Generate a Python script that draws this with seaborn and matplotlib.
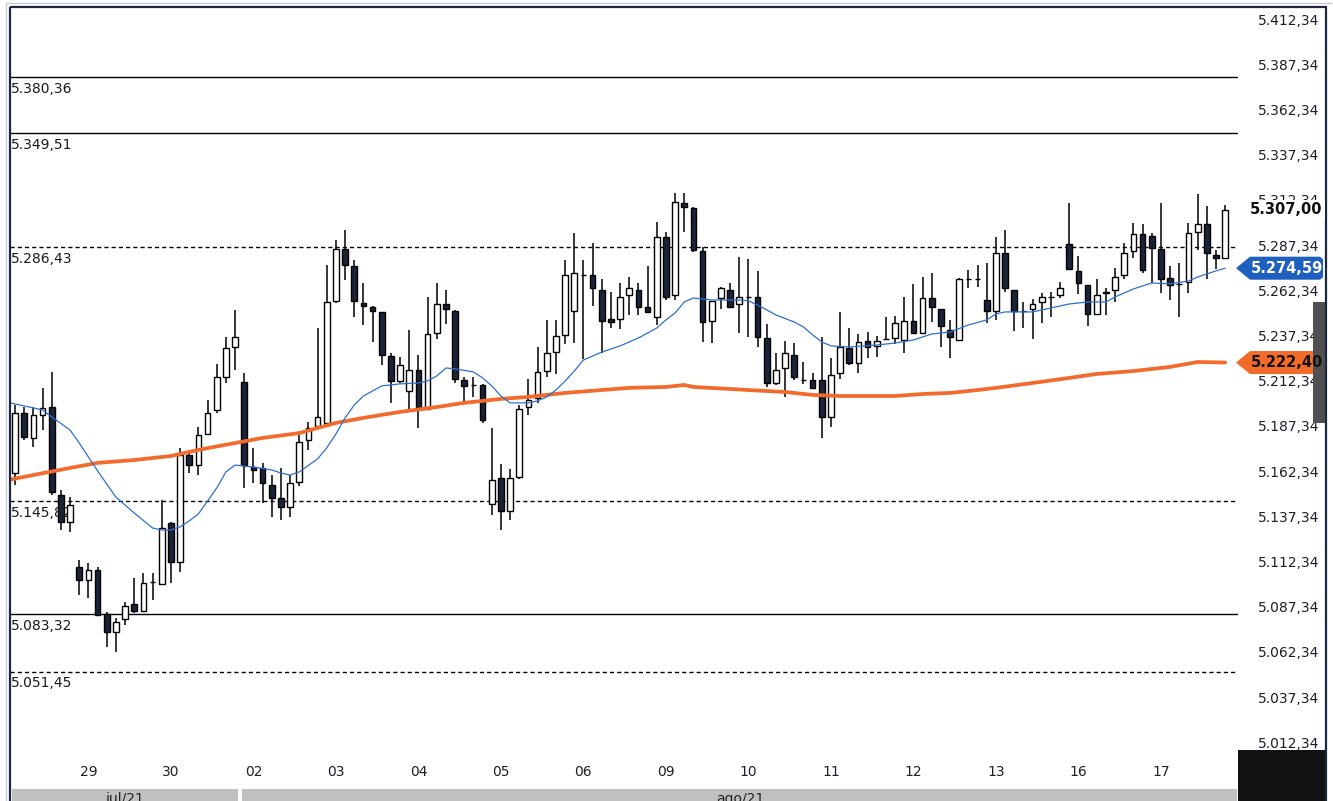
import numpy as np
import pandas as pd
import seaborn as sns
import matplotlib.pyplot as plt
from matplotlib.patches import Polygon, Rectangle

# hourly candles, 28/jul 10h ... 17/ago
opens = [5161.3, 5194.5, 5180.7, 5193.4, 5197.8, 5149.2, 5134.2, 5109.3, 5102.2, 5107.7,
         5083.4, 5073.4, 5080.6, 5088.9, 5085.0, 5101.0, 5100.0, 5133.7, 5112.1, 5171.3,
         5165.8, 5182.9, 5196.2, 5214.4, 5231.0, 5211.7, 5164.6, 5164.1, 5154.7, 5147.5,
         5142.5, 5156.4, 5179.6, 5187.3, 5189.0, 5256.5, 5285.2, 5275.8, 5255.4, 5253.2,
         5250.4, 5226.0, 5212.2, 5206.7, 5218.3, 5196.7, 5238.8, 5254.8, 5250.9, 5212.8,
         5210.0, 5210.0, 5144.2, 5158.6, 5140.3, 5159.1, 5197.8, 5202.8, 5217.7, 5228.2,
         5237.7, 5250.9, 5270.8, 5270.8, 5262.6, 5246.5, 5246.5, 5259.8, 5262.6, 5253.2,
         5247.6, 5291.9, 5259.8, 5310.7, 5307.9, 5284.1, 5245.4, 5258.1, 5262.6, 5254.8,
         5258.7, 5258.7, 5236.0, 5211.1, 5219.4, 5226.6, 5212.8, 5212.8, 5212.8, 5192.3,
         5216.6, 5230.5, 5222.2, 5234.3, 5231.6, 5235.4, 5236.0, 5234.9, 5245.4, 5238.8,
         5258.1, 5252.0, 5240.4, 5234.9, 5268.6, 5268.6, 5257.0, 5250.9, 5283.0, 5262.6,
         5250.9, 5252.0, 5255.9, 5258.7, 5259.8, 5288.0, 5273.1, 5265.3, 5249.3, 5261.4,
         5262.6, 5270.8, 5284.1, 5293.5, 5292.4, 5285.2, 5269.2, 5265.9, 5267.0, 5294.6,
         5299.1, 5281.9, 5280.2]
highs = [5198.9, 5197.8, 5197.8, 5208.4, 5217.2, 5151.9, 5148.0, 5113.2, 5111.6, 5109.3,
         5084.5, 5081.1, 5090.0, 5103.3, 5106.0, 5106.0, 5146.4, 5134.2, 5175.2, 5172.9,
         5186.8, 5201.7, 5221.6, 5236.6, 5251.5, 5216.6, 5175.2, 5166.9, 5160.2, 5164.1,
         5160.2, 5182.4, 5189.5, 5241.5, 5276.4, 5290.2, 5295.7, 5279.1, 5266.4, 5253.5,
         5250.6, 5227.7, 5225.5, 5240.4, 5226.6, 5258.7, 5266.4, 5262.6, 5251.2, 5214.4,
         5214.4, 5210.3, 5186.2, 5166.3, 5163.6, 5198.9, 5213.3, 5231.0, 5246.0, 5246.0,
         5279.1, 5294.1, 5279.1, 5288.6, 5268.6, 5261.4, 5266.4, 5269.7, 5266.4, 5275.8,
         5300.2, 5294.6, 5316.2, 5316.2, 5308.5, 5286.3, 5256.5, 5264.2, 5266.4, 5280.8,
         5279.7, 5273.1, 5243.7, 5227.7, 5234.3, 5233.2, 5222.7, 5216.6, 5236.6, 5224.9,
         5250.4, 5241.5, 5238.2, 5239.3, 5237.1, 5247.6, 5248.2, 5258.7, 5265.9, 5269.7,
         5271.9, 5252.2, 5246.0, 5269.0, 5273.6, 5276.4, 5277.5, 5291.9, 5295.7, 5262.8,
         5255.9, 5257.6, 5260.9, 5261.4, 5267.0, 5310.7, 5281.4, 5265.5, 5268.6, 5263.7,
         5274.7, 5288.6, 5299.6, 5299.1, 5294.1, 5310.7, 5275.8, 5277.5, 5299.6, 5315.6,
         5309.0, 5284.7, 5309.6]
lows = [5154.7, 5179.6, 5175.7, 5185.1, 5149.2, 5129.8, 5128.7, 5093.9, 5092.2, 5082.0,
        5065.1, 5062.3, 5077.3, 5083.9, 5084.5, 5091.1, 5099.5, 5100.5, 5106.6, 5161.3,
        5160.2, 5182.4, 5194.5, 5211.1, 5218.3, 5153.0, 5155.8, 5144.7, 5137.0, 5135.3,
        5137.0, 5154.1, 5174.1, 5186.8, 5186.8, 5255.4, 5268.1, 5247.6, 5243.2, 5233.8,
        5221.1, 5200.1, 5211.1, 5196.2, 5186.2, 5196.2, 5235.4, 5243.7, 5211.1, 5200.1,
        5203.4, 5189.0, 5138.1, 5129.8, 5135.3, 5158.0, 5193.4, 5200.1, 5214.4, 5216.1,
        5232.7, 5233.2, 5224.4, 5253.7, 5227.7, 5241.5, 5241.0, 5248.7, 5248.7, 5249.8,
        5243.2, 5257.0, 5257.0, 5294.6, 5283.6, 5233.8, 5233.2, 5252.0, 5252.6, 5238.8,
        5236.6, 5231.0, 5208.9, 5210.0, 5203.4, 5212.8, 5210.6, 5207.8, 5180.7, 5186.8,
        5213.3, 5221.1, 5216.6, 5224.9, 5225.5, 5235.0, 5232.7, 5227.7, 5238.5, 5238.2,
        5244.9, 5231.0, 5224.9, 5234.5, 5263.7, 5264.2, 5244.3, 5246.0, 5261.4, 5239.9,
        5241.5, 5235.4, 5244.3, 5247.6, 5258.1, 5274.0, 5260.3, 5242.6, 5248.7, 5248.7,
        5255.9, 5268.6, 5280.2, 5271.9, 5266.4, 5260.9, 5257.0, 5247.6, 5260.9, 5284.7,
        5268.6, 5274.2, 5279.7]
closes = [5194.5, 5181.3, 5193.4, 5197.3, 5150.8, 5134.2, 5143.6, 5102.2, 5107.7, 5082.8,
          5073.4, 5078.9, 5087.8, 5085.0, 5100.5, 5101.0, 5130.9, 5112.1, 5171.3, 5165.8,
          5182.4, 5194.5, 5214.4, 5230.5, 5236.6, 5165.8, 5163.0, 5155.8, 5147.5, 5142.5,
          5155.8, 5178.5, 5186.2, 5192.3, 5255.9, 5285.2, 5276.4, 5256.5, 5253.7, 5250.9,
          5226.6, 5212.2, 5221.1, 5218.3, 5196.7, 5238.2, 5254.8, 5252.0, 5213.3, 5209.5,
          5210.0, 5190.7, 5157.5, 5140.3, 5158.6, 5196.7, 5201.7, 5217.2, 5227.7, 5237.1,
          5270.8, 5271.9, 5270.8, 5263.7, 5245.4, 5244.9, 5258.7, 5263.7, 5253.2, 5250.4,
          5291.9, 5258.7, 5311.2, 5308.5, 5284.7, 5244.9, 5256.5, 5263.7, 5253.2, 5258.7,
          5258.7, 5236.6, 5211.1, 5218.3, 5227.7, 5214.4, 5212.8, 5208.4, 5192.3, 5215.5,
          5231.0, 5222.2, 5233.8, 5231.0, 5234.3, 5235.4, 5244.3, 5245.4, 5238.8, 5258.1,
          5253.2, 5242.6, 5236.6, 5268.6, 5268.6, 5268.6, 5250.9, 5283.0, 5263.7, 5250.9,
          5250.9, 5254.8, 5258.7, 5258.7, 5263.7, 5274.2, 5266.4, 5249.3, 5259.8, 5260.9,
          5269.7, 5283.0, 5293.5, 5273.6, 5285.8, 5268.6, 5265.3, 5265.9, 5294.1, 5299.1,
          5283.0, 5280.2, 5307.0]

# short moving average (blue)
ma_fast_idx = [-0.5, 0, 3, 4, 6, 7, 9, 11, 13, 15, 16, 17, 18, 19, 20, 21, 22, 23, 24, 26,
               28, 29, 30, 31, 33, 34, 35, 36, 37, 38, 40, 42, 44, 45, 46, 47, 48, 50, 51,
               52, 53, 54, 56, 57, 58, 59, 60, 61, 62, 64, 66, 68, 70, 71, 72, 73, 74, 76,
               79, 80, 81, 82, 83, 85, 86, 87, 88, 89, 91, 94, 96, 98, 100, 102, 104, 106,
               107, 108, 111, 113, 115, 117, 119, 120, 122, 123, 124, 126, 128, 129, 130,
               131, 132]
ma_fast = [5200.0, 5199.5, 5196.2, 5192.3, 5185.1, 5177.9, 5162.5, 5148.0, 5139.2, 5130.9,
           5129.8, 5129.8, 5131.5, 5134.8, 5138.7, 5145.8, 5153.0, 5161.9, 5165.7, 5164.6,
           5163.0, 5161.3, 5160.2, 5161.9, 5169.1, 5175.2, 5182.9, 5191.8, 5198.9, 5203.9,
           5209.5, 5210.6, 5211.1, 5212.2, 5215.0, 5219.4, 5218.9, 5217.2, 5213.9, 5209.5,
           5203.9, 5200.1, 5200.1, 5201.2, 5203.4, 5207.2, 5212.2, 5217.7, 5223.8, 5228.2,
           5231.6, 5236.0, 5241.5, 5246.0, 5249.8, 5255.9, 5258.1, 5257.0, 5257.0, 5256.5,
           5254.2, 5251.5, 5248.7, 5244.8, 5242.1, 5237.7, 5233.8, 5231.6, 5231.0, 5232.1,
           5233.2, 5234.9, 5238.2, 5239.3, 5243.2, 5246.0, 5249.3, 5250.4, 5250.4, 5252.6,
           5254.8, 5255.9, 5255.9, 5258.7, 5263.1, 5264.8, 5266.4, 5265.9, 5267.5, 5269.7,
           5271.4, 5273.1, 5274.59]

# long moving average (orange)
ma_slow_idx = [-0.5, 2, 6, 9, 13, 17, 20, 24, 27, 31, 35, 38, 42, 46, 49, 53, 56, 60, 64,
               67, 71, 73, 74, 80, 84, 87, 90, 96, 99, 102, 105, 107, 111, 115, 118, 122,
               126, 129, 132]
ma_slow = [5157.7, 5160.2, 5164.1, 5166.9, 5168.5, 5170.7, 5174.1, 5177.9, 5180.7, 5183.4,
           5189.0, 5191.8, 5195.1, 5197.8, 5200.1, 5202.3, 5203.4, 5205.6, 5207.2, 5208.4,
           5208.9, 5210.0, 5208.9, 5207.2, 5206.1, 5204.5, 5203.9, 5203.9, 5205.0, 5205.6,
           5207.2, 5208.4, 5211.1, 5213.9, 5216.1, 5217.7, 5220.0, 5222.7, 5222.40]

# horizontal levels
level_vals = [5380.36, 5349.51, 5286.43, 5145.82, 5083.32, 5051.45]
level_labels = ["5.380,36", "5.349,51", "5.286,43", "5.145,82", "5.083,32", "5.051,45"]
level_dashed = [False, False, True, True, False, True]

price_ticks = [5012.34 + 25 * k for k in range(17)]
day_idx = [8, 17, 26, 35, 44, 53, 62, 71, 80, 89, 98, 107, 116, 125]
day_labels = ["29", "30", "02", "03", "04", "05", "06", "09", "10", "11", "12", "13", "16", "17"]
months = ["jul/21", "ago/21"]
last_price = 5307.00


def br(v):
    s = f"{v:,.2f}"
    return s.replace(",", "X").replace(".", ",").replace("X", ".")


sns.set_style("white")
plt.rcParams['font.family'] = ['DejaVu Sans']

W, H = 1333, 801
fig = plt.figure(figsize=(W / 100, H / 100), dpi=100)
ax = fig.add_axes([10 / W, 51 / H, 1228 / W, 742 / H])
ax.set_facecolor("white")

df = pd.DataFrame({"o": opens, "h": highs, "l": lows, "c": closes})
df["i"] = np.arange(len(df))
up = df.c >= df.o

# levels (under the candles)
for lv, lab, dashed in zip(level_vals, level_labels, level_dashed):
    ax.axhline(lv, color="black", lw=1.0, ls=(0, (3, 2.2)) if dashed else "-", zorder=1)
    ax.annotate(lab, xy=(0, lv), xycoords=("axes fraction", "data"), xytext=(1, -3.5),
                textcoords="offset points", ha="left", va="top", fontsize=10,
                color="#1a1a1a", zorder=1.5)

ax.vlines(df.i, df.l, df.h, color="black", lw=1.1, zorder=2)
ax.bar(df.i[up], (df.c - df.o)[up], bottom=df.o[up], width=0.62, color="white",
       edgecolor="black", lw=1.0, zorder=3)
ax.bar(df.i[~up], (df.o - df.c)[~up], bottom=df.c[~up], width=0.62, color="#1c2338",
       edgecolor="black", lw=1.0, zorder=3)

sns.lineplot(x=ma_slow_idx, y=ma_slow, color="#f26a2c", lw=2.7, ax=ax, zorder=4)
sns.lineplot(x=ma_fast_idx, y=ma_fast, color="#2f6fce", lw=0.9, ax=ax, zorder=5)

ax.set_xlim(-0.55, 133.4)
ax.set_ylim(5008.1, 5418.5)
ax.yaxis.tick_right()
ax.set_yticks(price_ticks)
ax.set_yticklabels([br(t) for t in price_ticks])
ax.set_xticks(day_idx)
ax.set_xticklabels(day_labels)
ax.tick_params(axis="y", length=0, pad=14, labelsize=10, labelcolor="#1e1e2a")
ax.tick_params(axis="x", length=0, pad=11, labelsize=10, labelcolor="#1e1e2a")
ax.set_xlabel("")
ax.set_ylabel("")
for s in ax.spines.values():
    s.set_visible(False)

# decorations in figure pixels
ov = fig.add_axes([0, 0, 1, 1], zorder=10)
ov.set_xlim(0, W)
ov.set_ylim(H, 0)
ov.axis("off")


def ypix(v):
    return H - ax.transData.transform((0, v))[1]


def tag(v, fc, tc):
    yc = ypix(v)
    pts = [(1236, yc), (1250, yc - 11.5), (1320, yc - 11.5), (1323, yc - 9),
           (1323, yc + 9), (1320, yc + 11.5), (1250, yc + 11.5)]
    ov.add_patch(Polygon(pts, closed=True, fc=fc, ec="none"))
    ov.text(1287, yc, br(v), ha="center", va="center", fontsize=10.5,
            fontweight="bold", color=tc)


ov.text(1250, ypix(last_price), br(last_price), ha="left", va="center", fontsize=10.5,
        fontweight="bold", color="#111111",
        bbox=dict(boxstyle="square,pad=0.15", fc="white", ec="none"))
tag(ma_fast[-1], "#1f5fbf", "white")
tag(ma_slow[-1], "#f26b2b", "#111111")

ov.add_patch(Rectangle((1313, 302), 12, 121, fc="#505050", ec="none"))
ov.add_patch(Rectangle((1238, 750), 88, 51, fc="#111111", ec="none"))

ov.add_patch(Rectangle((12, 789), 226, 14, fc="#c0c0c0", ec="none"))
ov.add_patch(Rectangle((242, 789), 995, 14, fc="#c0c0c0", ec="none"))
ov.text(125, 792, months[0], ha="center", va="top", fontsize=10, color="#222222")
ov.text(740, 792, months[1], ha="center", va="top", fontsize=10, color="#222222")

frame = "#1d2742"
ov.plot([10, 10], [7, H], color=frame, lw=1.6, solid_capstyle="butt")
ov.plot([10, 1327], [7, 7], color=frame, lw=1.6, solid_capstyle="butt")
ov.plot([1326, 1326], [7, H], color=frame, lw=1.6, solid_capstyle="butt")
ov.plot([6, 6], [3, H], color="#c8ccd6", lw=1.0)
ov.plot([6, 1331], [3, 3], color="#c8ccd6", lw=1.0)

fig.savefig("out.png", dpi=100)
